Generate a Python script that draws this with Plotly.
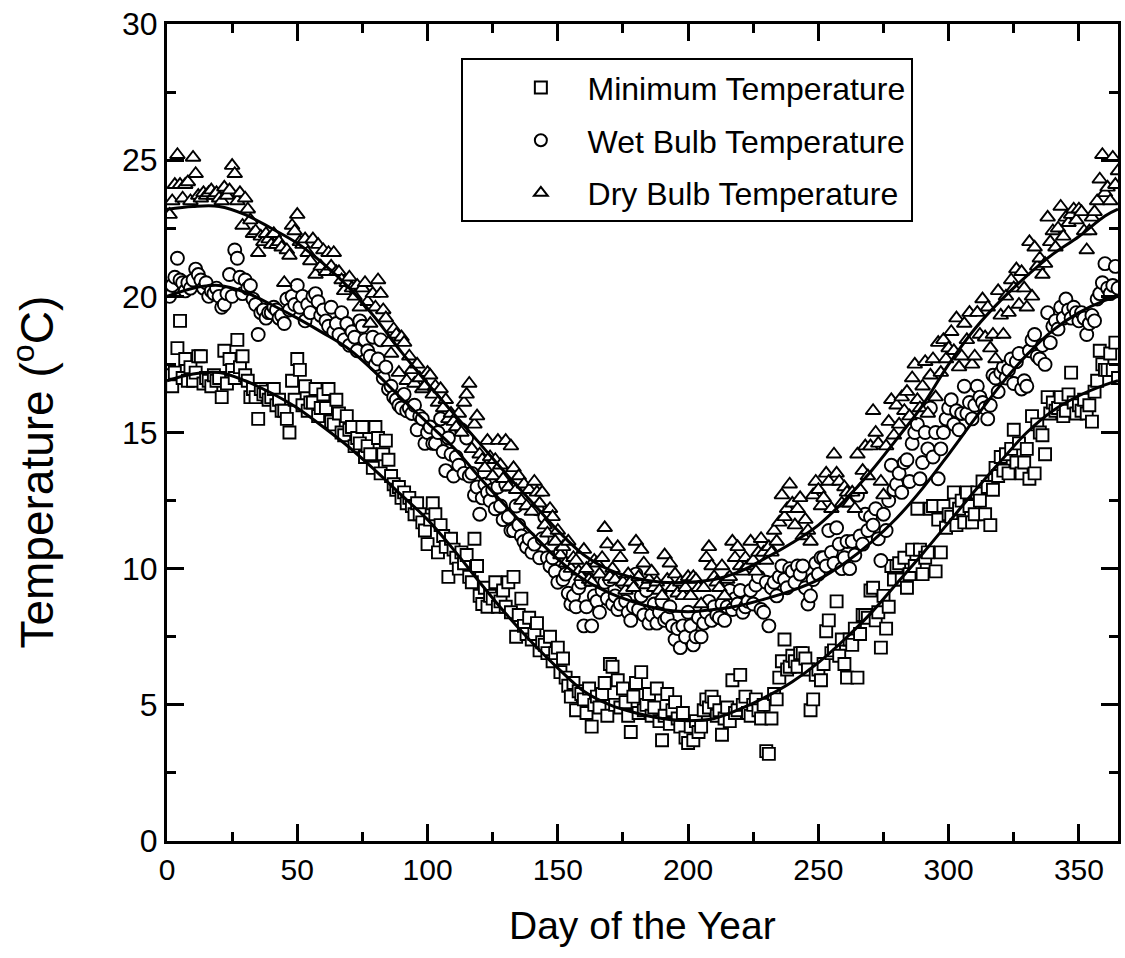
import plotly.graph_objects as go

# ---------------- data ----------------
dry_bulb = [
    23.0, 23.5, 24.1, 25.2, 24.1, 23.6, 24.1, 24.2, 23.5, 25.1,
    24.5, 23.7, 23.6, 23.8, 23.7, 23.8, 23.9, 23.7, 23.8, 23.6,
    23.5, 24.0, 23.7, 23.9, 24.8, 24.5, 23.5, 23.8, 22.6, 23.6,
    23.2, 22.8, 22.3, 22.4, 21.6, 22.2, 22.0, 22.3, 22.1, 21.9,
    22.3, 21.9, 22.0, 21.8, 20.5, 21.7, 21.5, 22.6, 22.4, 23.0,
    22.0, 21.9, 22.1, 21.6, 21.3, 22.1, 20.8, 21.9, 21.1, 21.7,
    20.9, 21.6, 21.1, 21.6, 20.9, 20.9, 20.6, 20.2, 20.5, 20.7,
    20.3, 20.0, 20.4, 19.6, 20.3, 20.5, 19.8, 19.0, 20.1, 19.6,
    20.6, 20.1, 19.5, 19.2, 18.3, 17.9, 18.8, 18.6, 17.2, 18.5,
    18.3, 16.9, 17.8, 17.3, 16.8, 17.5, 17.0, 16.6, 16.7, 17.2,
    17.1, 16.4, 16.7, 16.1, 16.6, 15.9, 16.2, 15.5, 15.7, 15.4,
    15.2, 15.7, 15.0, 16.1, 16.4, 16.8, 14.4, 15.3, 15.6, 14.2,
    14.0, 13.7, 14.7, 14.1, 13.4, 14.0, 14.7, 13.8, 13.3, 14.7,
    13.0, 14.5, 13.7, 12.9, 13.4, 12.5, 13.1, 12.3, 12.9, 12.1,
    13.2, 12.8, 12.4, 12.8, 11.6, 11.3, 12.2, 11.9, 11.0, 11.4,
    10.5, 10.8, 10.2, 11.0, 10.0, 10.4, 10.3, 9.9, 9.7, 10.7,
    10.0, 9.6, 9.5, 10.3, 10.2, 9.8, 10.4, 11.5, 10.9, 9.7,
    10.0, 9.6, 10.8, 10.4, 9.5, 9.2, 9.8, 9.5, 9.3, 11.0,
    9.7, 10.7, 10.2, 9.4, 9.6, 9.9, 9.3, 9.5, 9.2, 9.0,
    10.5, 9.6, 10.2, 9.3, 9.8, 9.1, 9.5, 9.0, 9.3, 9.7,
    9.0, 9.7, 9.6, 9.3, 8.7, 9.3, 10.4, 10.8, 10.1, 9.7,
    9.5, 9.3, 10.1, 9.0, 9.6, 9.7, 11.0, 10.4, 10.8, 10.1,
    9.9, 10.4, 10.1, 11.0, 10.3, 9.9, 10.6, 11.1, 10.6, 10.3,
    10.8, 10.6, 11.4, 11.0, 11.7, 12.7, 11.9, 12.2, 13.1, 12.4,
    11.6, 12.2, 12.6, 11.2, 11.8, 11.4, 11.0, 12.7, 13.2, 12.9,
    12.3, 12.6, 13.5, 13.2, 12.2, 14.2, 13.5, 13.2, 12.4, 13.0,
    12.8, 12.4, 12.8, 12.2, 14.2, 12.9, 13.6, 14.5, 13.4, 14.5,
    15.8, 15.0, 14.6, 13.2, 12.7, 14.5, 15.4, 16.2, 14.9, 16.0,
    15.3, 16.3, 15.8, 16.5, 15.6, 17.0, 17.5, 16.2, 15.9, 16.7,
    17.6, 15.7, 17.1, 17.7, 16.3, 18.3, 17.2, 18.4, 17.7, 18.1,
    18.7, 18.0, 19.2, 17.4, 17.8, 19.0, 18.4, 19.4, 17.5, 17.8,
    19.4, 18.6, 19.9, 18.5, 19.6, 18.1, 18.6, 17.7, 20.2, 19.3,
    18.6, 20.0, 19.4, 20.6, 20.3, 21.0, 19.7, 20.9, 20.3, 19.6,
    22.0, 20.0, 21.8, 21.1, 21.4, 20.8, 21.2, 22.9, 22.0, 22.4,
    21.8, 22.5, 23.3, 22.2, 22.9, 22.7, 23.0, 23.2, 22.8, 23.2,
    23.1, 22.4, 21.7, 22.4, 22.9, 23.1, 23.5, 24.3, 25.2, 23.8,
    24.0, 23.5, 25.1, 24.1, 24.6,
]

wet_bulb = [
    20.0, 20.4, 20.7, 21.4, 20.6, 20.5, 20.2, 20.5, 20.3, 20.6,
    21.0, 20.8, 20.6, 20.3, 20.5, 20.0, 20.2, 20.1, 20.3, 20.0,
    19.6, 19.7, 20.1, 20.8, 20.0, 21.7, 21.4, 20.7, 20.1, 20.6,
    20.3, 20.4, 19.9, 19.7, 18.6, 19.4, 19.5, 19.2, 19.4, 19.4,
    19.6, 19.5, 19.2, 19.3, 19.0, 19.9, 19.5, 20.0, 19.7, 20.4,
    19.6, 20.0, 19.1, 19.7, 19.4, 20.0, 20.1, 19.8, 19.3, 19.5,
    19.1, 18.9, 19.6, 18.7, 19.0, 18.6, 19.4, 18.4, 19.0, 18.2,
    18.7, 18.5, 18.0, 19.1, 18.9, 18.4, 18.0, 17.8, 18.5, 17.5,
    17.7, 18.4, 17.0, 17.4, 16.6, 16.7, 16.3, 16.2, 16.0, 15.9,
    16.4, 15.8, 15.9, 15.7, 16.0, 15.1, 15.6, 15.5, 14.6, 15.0,
    15.2, 14.6, 14.6, 15.0, 15.5, 14.3, 13.6, 14.8, 14.2, 13.4,
    14.1, 13.8, 15.1, 13.5, 14.8, 13.4, 13.5, 12.7, 13.0, 12.0,
    12.6, 13.1, 12.8, 12.5, 12.9, 12.2, 13.0, 12.3, 11.8, 13.1,
    11.9, 11.4, 11.4, 12.3, 11.6, 11.2, 11.0, 10.8, 11.1, 10.6,
    10.9, 12.2, 10.4, 11.1, 11.9, 10.4, 10.1, 10.4, 9.9, 9.5,
    10.6, 9.6, 9.8, 9.1, 8.7, 9.0, 8.6, 9.3, 9.5, 7.9,
    8.6, 9.6, 7.9, 9.0, 8.8, 8.4, 9.2, 9.5, 8.9, 9.6,
    8.7, 9.0, 8.5, 8.7, 9.5, 8.8, 8.4, 8.1, 8.6, 9.8,
    8.5, 9.0, 8.3, 9.2, 8.0, 8.3, 8.7, 8.0, 8.4, 8.8,
    8.1, 8.2, 8.6, 7.9, 7.4, 7.8, 7.1, 7.9, 7.5, 8.4,
    7.9, 7.2, 7.5, 8.2, 7.5, 8.0, 8.4, 8.8, 8.1, 8.6,
    8.3, 8.2, 8.7, 8.1, 8.6, 9.2, 8.5, 8.9, 8.7, 9.2,
    8.4, 8.6, 8.8, 9.2, 8.7, 9.4, 9.7, 8.5, 8.4, 9.5,
    7.9, 9.3, 9.5, 9.0, 9.7, 10.1, 9.6, 9.3, 10.0, 9.9,
    9.5, 10.1, 9.8, 10.1, 9.3, 8.7, 9.0, 9.6, 10.2, 9.8,
    10.4, 10.4, 10.1, 11.4, 10.6, 10.2, 11.5, 10.9, 10.0, 10.4,
    11.0, 10.0, 11.0, 10.5, 12.7, 11.2, 10.9, 12.0, 11.4, 11.9,
    11.6, 12.2, 11.1, 10.3, 12.0, 11.4, 12.5, 13.8, 12.9, 13.1,
    13.5, 12.8, 13.9, 14.0, 13.2, 14.6, 15.0, 15.3, 13.3, 13.9,
    15.0, 14.4, 15.9, 14.1, 15.0, 13.3, 14.4, 15.0, 15.5, 15.9,
    16.2, 15.3, 15.8, 15.1, 15.7, 16.7, 15.7, 16.1, 15.5, 16.0,
    16.7, 16.3, 16.1, 15.9, 15.5, 16.0, 17.1, 17.0, 16.5, 17.2,
    17.4, 17.0, 17.3, 17.7, 16.8, 17.6, 17.9, 16.6, 16.9, 16.7,
    18.0, 18.4, 18.6, 17.8, 17.7, 18.2, 17.5, 19.4, 18.3, 18.9,
    19.1, 18.8, 19.6, 19.2, 19.9, 19.5, 19.2, 19.6, 19.4, 19.1,
    19.4, 19.2, 18.6, 19.0, 19.3, 19.1, 19.9, 20.1, 20.5, 21.2,
    20.3, 20.1, 20.4, 21.1, 20.3,
]

minimum = [
    17.1, 16.7, 17.2, 18.1, 19.1, 17.0, 17.7, 16.9, 17.4, 16.9,
    17.2, 17.8, 17.8, 16.8, 17.0, 16.9, 16.7, 17.1, 16.9, 17.0,
    16.3, 18.0, 16.8, 17.7, 17.3, 17.0, 18.4, 17.4, 17.8, 17.1,
    16.9, 16.3, 16.6, 16.3, 15.5, 16.6, 16.4, 16.5, 16.2, 16.3,
    16.6, 16.0, 16.2, 15.8, 15.8, 15.5, 15.0, 16.9, 16.2, 17.7,
    17.3, 16.0, 16.7, 15.8, 16.1, 16.1, 16.6, 15.6, 15.9, 16.4,
    15.9, 16.6, 15.4, 15.3, 16.2, 15.7, 15.0, 14.9, 15.6, 15.1,
    15.2, 14.5, 14.8, 14.6, 15.2, 14.1, 14.5, 14.2, 13.7, 15.2,
    14.8, 13.5, 14.2, 14.7, 14.0, 13.4, 13.1, 12.9, 13.0, 12.6,
    12.8, 12.4, 12.6, 12.3, 12.0, 12.4, 12.0, 11.7, 11.4, 10.9,
    11.8, 12.4, 12.0, 10.6, 11.6, 11.2, 10.8, 9.7, 11.1, 10.7,
    10.4, 10.0, 10.6, 10.2, 10.5, 9.7, 9.5, 11.1, 10.1, 9.0,
    8.7, 9.3, 8.6, 9.0, 8.9, 9.5, 8.6, 8.8, 9.2, 8.6,
    9.5, 8.4, 9.7, 7.5, 8.3, 8.9, 7.9, 7.6, 8.2, 7.4,
    7.6, 8.0, 7.0, 7.3, 7.2, 6.9, 7.5, 6.6, 6.9, 7.1,
    6.2, 6.7, 6.0, 5.7, 5.3, 5.8, 4.8, 5.5, 5.4, 5.2,
    4.7, 5.6, 4.2, 5.0, 5.3, 4.9, 5.4, 5.8, 4.6, 6.5,
    6.4, 5.0, 5.9, 4.9, 5.6, 5.1, 4.6, 4.0, 5.3, 5.8,
    4.7, 6.2, 4.8, 5.0, 5.4, 4.6, 4.9, 5.6, 4.4, 3.7,
    4.6, 5.4, 4.3, 4.8, 5.1, 4.5, 4.2, 4.7, 3.8, 3.6,
    4.2, 3.7, 4.4, 4.0, 4.2, 4.8, 5.2, 4.9, 5.3, 5.1,
    4.6, 4.8, 3.9, 4.5, 4.9, 4.4, 5.9, 4.7, 4.8, 6.1,
    5.0, 5.3, 4.7, 4.6, 5.0, 5.2, 4.8, 4.5, 5.0, 3.3,
    3.2, 4.5, 5.4, 5.2, 6.0, 6.6, 7.4, 6.3, 6.4, 6.8,
    6.6, 6.4, 6.9, 6.9, 6.7, 6.3, 4.8, 5.2, 6.1, 6.3,
    5.9, 6.5, 7.7, 8.1, 6.9, 7.0, 8.8, 6.8, 7.4, 6.5,
    6.0, 7.4, 7.2, 7.8, 6.0, 7.6, 8.3, 8.3, 8.2, 9.2,
    9.3, 8.1, 8.4, 7.1, 9.0, 7.8, 8.6, 10.1, 9.6, 10.1,
    10.2, 9.6, 10.4, 9.3, 9.8, 10.7, 10.1, 12.2, 10.7, 9.8,
    10.4, 10.6, 12.2, 12.3, 9.9, 11.8, 10.6, 12.3, 11.5, 12.0,
    11.9, 12.8, 11.6, 12.2, 12.5, 11.7, 12.8, 12.3, 11.7, 12.0,
    12.8, 12.5, 13.2, 12.0, 13.0, 11.6, 12.9, 13.7, 13.4, 14.1,
    13.6, 14.2, 13.5, 14.4, 15.1, 13.9, 14.6, 13.5, 13.9, 14.4,
    13.3, 15.6, 13.5, 15.3, 15.0, 14.9, 14.2, 16.3, 15.7, 16.1,
    15.8, 15.9, 16.3, 15.6, 15.8, 16.4, 17.2, 16.1, 15.7, 16.0,
    15.8, 16.2, 15.7, 16.0, 15.4, 16.5, 16.9, 18.0, 17.5, 17.3,
    17.3, 17.9, 17.3, 18.3, 17.0,
]

# fitted curves, read at every 10 days
fit_days = [0, 10, 20, 30, 40, 50, 60, 70, 80, 90, 100, 110, 120, 130, 140,
            150, 160, 170, 180, 190, 200, 210, 220, 230, 240, 250, 260, 270,
            280, 290, 300, 310, 320, 330, 340, 350, 360, 365]
dry_fit = [23.2, 23.3, 23.3, 23.0, 22.5, 21.95, 21.2, 20.3, 19.2, 17.95, 16.8,
           15.7, 14.6, 13.5, 12.45, 11.4, 10.5, 9.95, 9.65, 9.5, 9.5, 9.6, 9.9,
           10.4, 10.95, 11.6, 12.5, 13.55, 14.75, 16.0, 17.5, 18.8, 19.85,
           20.75, 21.55, 22.2, 22.95, 23.2]
wet_fit = [20.0, 20.3, 20.4, 20.15, 19.7, 19.2, 18.65, 18.05, 17.2, 16.25,
           15.35, 14.45, 13.35, 12.3, 11.3, 10.35, 9.6, 9.1, 8.75, 8.5, 8.42,
           8.5, 8.65, 8.9, 9.2, 9.6, 10.2, 10.95, 11.85, 12.95, 14.2, 15.5,
           16.75, 17.85, 18.75, 19.4, 19.85, 20.0]
min_fit = [16.9, 17.15, 17.2, 16.9, 16.45, 15.9, 15.2, 14.45, 13.6, 12.7, 11.8,
           10.7, 9.5, 8.35, 7.3, 6.35, 5.5, 5.0, 4.7, 4.5, 4.42, 4.5, 4.85, 5.3,
           5.85, 6.55, 7.4, 8.35, 9.45, 10.55, 11.7, 12.85, 13.95, 15.0, 15.8,
           16.35, 16.75, 16.9]

series_names = ["Minimum Temperature", "Wet Bulb Temperature", "Dry Bulb Temperature"]
x_ticks = [0, 50, 100, 150, 200, 250, 300, 350]
y_ticks = [0, 5, 10, 15, 20, 25, 30]

# ---------------- figure ----------------
FONT = "Liberation Sans, Arial, sans-serif"
NBSP = "\u00a0"

fig = go.Figure()

marker_specs = [
    (minimum, "square", 12),
    (wet_bulb, "circle", 13),
    (dry_bulb, "triangle-up", 13),
]
for i, ((vals, sym, size), name) in enumerate(zip(marker_specs, series_names)):
    fig.add_trace(go.Scatter(
        x=list(range(1, len(vals) + 1)), y=vals, mode="markers",
        name=NBSP * 3 + name, legendgroup="g%d" % i,
        marker=dict(symbol=sym, size=size, color="white",
                    line=dict(color="black", width=1.9)),
    ))

for fit in (min_fit, wet_fit, dry_fit):
    fig.add_trace(go.Scatter(
        x=fit_days, y=fit, mode="lines", showlegend=False,
        line=dict(color="black", width=3, shape="spline", smoothing=1.0),
    ))

axis_common = dict(
    showline=True, linecolor="black", linewidth=3, mirror="ticks",
    ticks="inside", ticklen=17, tickwidth=2.5, tickcolor="black",
    showgrid=False, zeroline=False,
)

fig.update_xaxes(
    range=[0, 365], tickvals=x_ticks,
    minor=dict(ticks="inside", ticklen=9, tickwidth=2.5, tickcolor="black",
               dtick=25, tick0=0, showgrid=False),
    tickfont=dict(family=FONT, size=30, color="black"),
    **axis_common,
)
fig.update_yaxes(
    range=[0, 30], tickvals=y_ticks,
    minor=dict(ticks="inside", ticklen=9, tickwidth=2.5, tickcolor="black",
               dtick=2.5, tick0=0, showgrid=False),
    tickfont=dict(family=FONT, size=32, color="black"),
    **axis_common,
)

fig.add_annotation(text="Day of the Year", xref="paper", yref="paper",
                   x=0.5, y=-0.103, xanchor="center", yanchor="middle",
                   showarrow=False,
                   font=dict(family=FONT, size=39, color="black"))
fig.add_annotation(text="Temperature (<sup>o</sup>C)", xref="paper", yref="paper",
                   x=-0.14, y=0.452, xanchor="center", yanchor="middle",
                   textangle=-90, showarrow=False,
                   font=dict(family=FONT, size=46, color="black"))

fig.update_layout(
    width=1125, height=958,
    margin=dict(l=167, r=4, t=24, b=117),
    plot_bgcolor="white", paper_bgcolor="white",
    showlegend=True,
    legend=dict(
        x=0.309, y=0.958, xanchor="left", yanchor="top",
        bgcolor="white", bordercolor="black", borderwidth=2,
        font=dict(family=FONT, size=32, color="black"),
        indentation=58, itemsizing="constant", tracegroupgap=8,
    ),
)

fig.write_html("out.html", config={"displayModeBar": False})
